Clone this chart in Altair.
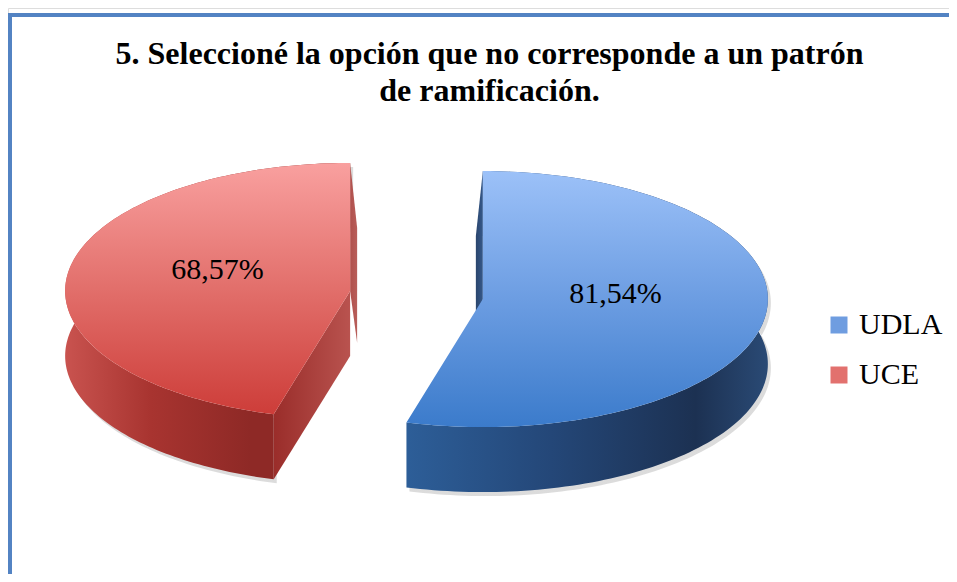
import math
import numpy as np
import pandas as pd
import altair as alt

# ---------------- data ----------------
TITLE = ["5. Seleccioné la opción que no corresponde a un patrón", "de ramificación."]
CATEGORIES = ["UDLA", "UCE"]
VALUES = [81.54, 68.57]
LABELS = ["81,54%", "68,57%"]
LEGEND_COLORS = ["#6f9de0", "#e2716e"]

SERIF = "Liberation Serif, Times New Roman, DejaVu Serif, serif"

# ---------------- layout (pixels) ----------------
W, H = 941, 566
RX, RY = 285.0, 128.0          # ellipse radii of the tilted pie
CX, CY = 408.5, 287.0          # pie centre inside the plot area
DEPTH = 65.0 / RY              # thickness of the 3-D pie (in y units)
EXPLODE = 0.235                # explode distance (in radius units)
RIM = 7.0 / RX                 # perspective sliver of the vertical cut faces
SHADOW = (3.0 / RX, -4.0 / RY)
LABEL_R = 0.47
N = 140

x_dom = [-CX / RX, (W - CX) / RX]
y_dom = [-(H - CY) / RY, CY / RY]

total = sum(VALUES)
poly_rows = []
label_rows = []
start = 0.0
for cat, val, lab in zip(CATEGORIES, VALUES, LABELS):
    frac = val / total
    a0, a1 = start * 2 * math.pi, (start + frac) * 2 * math.pi
    mid = (a0 + a1) / 2
    ox, oy = EXPLODE * math.sin(mid), EXPLODE * math.cos(mid)
    t = np.linspace(a0, a1, N)
    ax = ox + np.sin(t)
    ay = oy + np.cos(t)
    top = [(ox, oy)] + list(zip(ax, ay))
    band = list(zip(ax, ay)) + list(zip(ax[::-1], ay[::-1] - DEPTH))
    shadow = [(x + SHADOW[0], y + SHADOW[1]) for x, y in band]
    cut = [(ox, oy), (ax[0], ay[0]), (ax[0], ay[0] - DEPTH), (ox, oy - DEPTH)]
    # the face along the 12 o'clock edge, seen slightly from the side
    if start == 0.0:
        ex, ey, s = ax[0], ay[0], -RIM
    else:
        ex, ey, s = ax[-1], ay[-1], RIM
    rim = [(ox, oy), (ex, ey), (ex + s, ey - DEPTH), (ox + s, oy - 0.8 * DEPTH)]
    for part, pts in (("shadow", shadow), ("band", band), ("rim", rim), ("cut", cut), ("top", top)):
        for i, (px, py) in enumerate(pts):
            poly_rows.append({"poly": f"{cat}_{part}", "i": i, "x": float(px), "y": float(py)})
    label_rows.append({
        "cat": cat,
        "label": lab,
        "x": ox + LABEL_R * math.sin(mid),
        "y": oy + LABEL_R * math.cos(mid) + 13.0 / RY,
    })
    start += frac

poly_df = pd.DataFrame(poly_rows)
label_df = pd.DataFrame(label_rows)

xs = alt.Scale(domain=x_dom, nice=False, zero=False)
ys = alt.Scale(domain=y_dom, nice=False, zero=False)


def grad(stops, vertical=True):
    return alt.LinearGradient(
        gradient="linear",
        stops=[alt.GradientStop(offset=o, color=c) for o, c in stops],
        x1=0, y1=0, x2=0 if vertical else 1, y2=1 if vertical else 0,
    )


FILLS = {
    "UCE_shadow": grad([(0, "#9a9a9a"), (1, "#9a9a9a")]),
    "UCE_band": grad([(0, "#c9534f"), (0.3, "#a83430"), (0.65, "#8e2926"), (1, "#8e2926")], vertical=False),
    "UCE_rim": grad([(0, "#b0504c"), (1, "#b85e5a")], vertical=False),
    "UCE_cut": grad([(0, "#9a2d2a"), (1, "#b9534f")], vertical=False),
    "UCE_top": grad([(0, "#f9a09f"), (0.5, "#e26f6b"), (1, "#cd3d39")]),
    "UDLA_shadow": grad([(0, "#9a9a9a"), (1, "#9a9a9a")]),
    "UDLA_band": grad([(0, "#2d5e98"), (0.4, "#244778"), (0.8, "#1c3152"), (1, "#2a4a75")], vertical=False),
    "UDLA_rim": grad([(0, "#2a456d"), (1, "#36598a")], vertical=False),
    "UDLA_cut": grad([(0, "#2d5e98"), (1, "#2d5e98")], vertical=False),
    "UDLA_top": grad([(0, "#9cc1f8"), (0.5, "#6c9de2"), (1, "#3b7bcb")]),
}

layers = []

# hidden points (under the slices) that carry the legend
legend_layer = alt.Chart(label_df).mark_square(size=4, opacity=1).encode(
    x=alt.X("x:Q", scale=xs, axis=None),
    y=alt.Y("y:Q", scale=ys, axis=None),
    color=alt.Color(
        "cat:N",
        scale=alt.Scale(domain=CATEGORIES, range=LEGEND_COLORS),
        legend=alt.Legend(
            title=None, orient="none", legendX=816, legendY=302,
            symbolType="square", symbolSize=289, symbolStrokeWidth=0,
            labelFont=SERIF, labelFontSize=30, labelColor="black",
            labelOffset=5, rowPadding=20, padding=0, labelLimit=200,
        ),
    ),
)
layers.append(legend_layer)

for cat in ["UCE", "UDLA"]:
    for part in ["shadow", "band", "rim", "cut", "top"]:
        name = f"{cat}_{part}"
        layers.append(
            alt.Chart(poly_df).transform_filter(alt.datum.poly == name)
            .mark_line(filled=True, fill=FILLS[name], strokeWidth=0, interpolate="linear",
                       opacity=0.35 if part == "shadow" else 1)
            .encode(
                x=alt.X("x:Q", scale=xs, axis=None),
                y=alt.Y("y:Q", scale=ys, axis=None),
                order=alt.Order("i:Q"),
            )
        )

text_layer = alt.Chart(label_df).mark_text(
    font=SERIF, fontSize=30, color="black", align="center", baseline="middle"
).encode(
    x=alt.X("x:Q", scale=xs, axis=None),
    y=alt.Y("y:Q", scale=ys, axis=None),
    text="label:N",
)
layers.append(text_layer)

# blue frame: only its top and left edges fall inside the picture
frame_df = pd.DataFrame({"k": [0]})
frame = alt.Chart(frame_df).mark_rect(
    fillOpacity=0, stroke="#5383c3", strokeWidth=4
).encode(
    x=alt.value(2), x2=alt.value(W + 40), y=alt.value(7), y2=alt.value(H + 40)
)
layers.append(frame)

chart = alt.layer(*layers).properties(
    width=W,
    height=H,
    padding=0,
    autosize=alt.AutoSizeParams(type="none"),
    title=alt.Title(
        text=TITLE, font=SERIF, fontSize=32, fontWeight="bold",
        color="black", anchor="middle", offset=-100, dx=11, lineHeight=37,
    ),
).configure_view(stroke=None).configure(background="white")

chart.save("out.html", embed_options={"renderer": "svg", "actions": False})
